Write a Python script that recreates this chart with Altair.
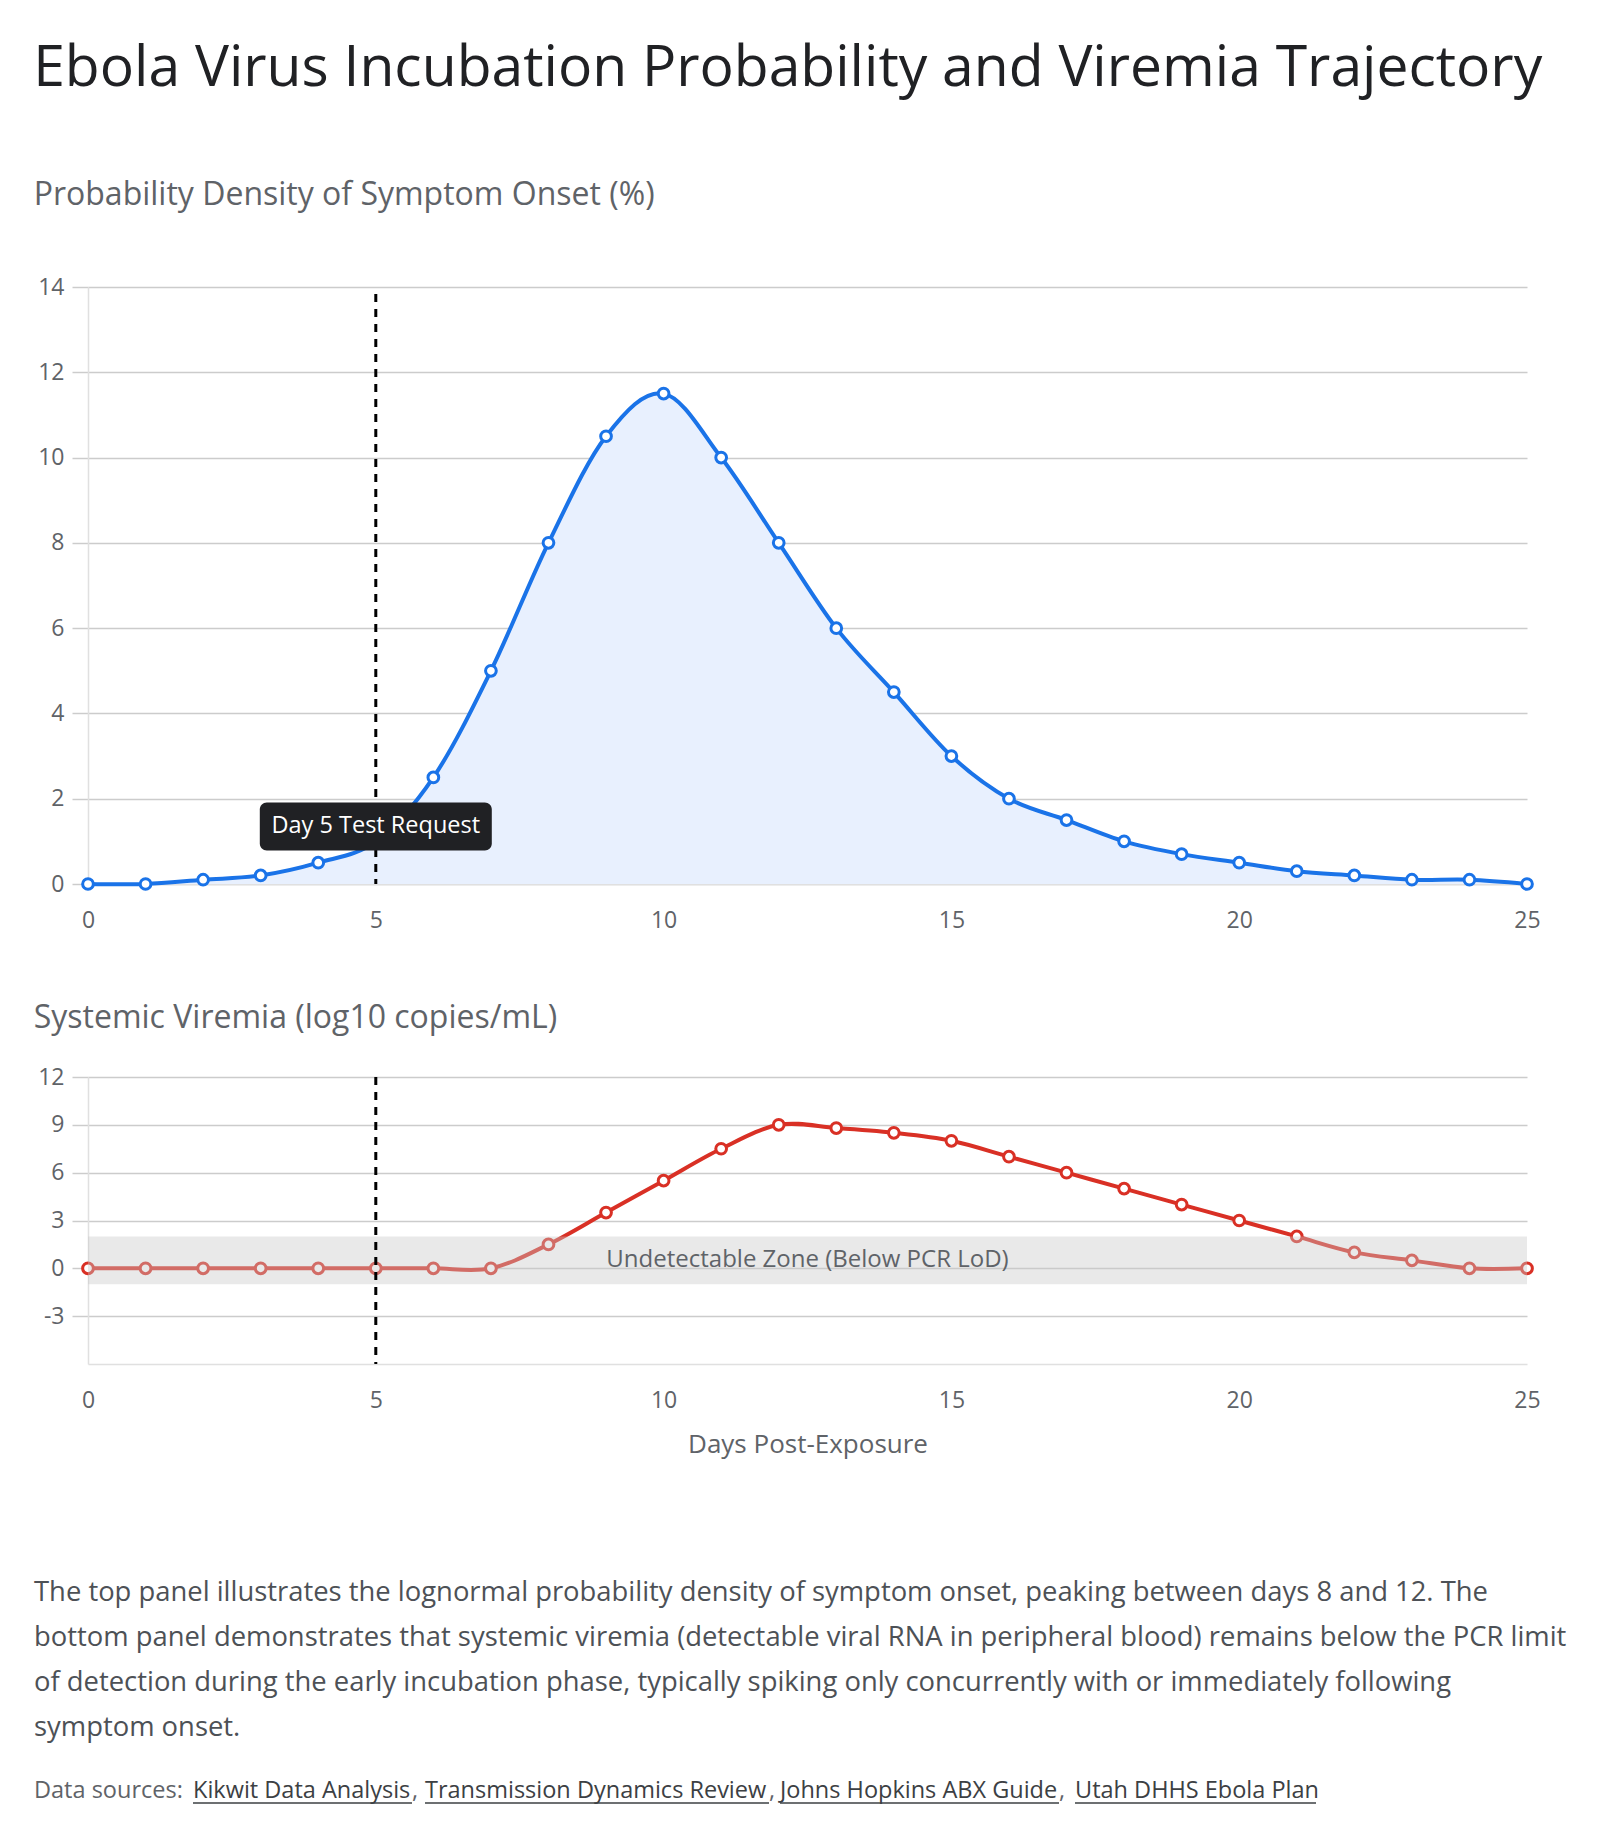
import altair as alt
import pandas as pd

# ---- data -------------------------------------------------------------
days = list(range(26))
onset_pct = [0, 0, 0.1, 0.2, 0.5, 1.0, 2.5, 5, 8, 10.5, 11.5, 10, 8, 6, 4.5,
             3, 2, 1.5, 1.0, 0.7, 0.5, 0.3, 0.2, 0.1, 0.1, 0]
viremia_log10 = [0, 0, 0, 0, 0, 0, 0, 0, 1.5, 3.5, 5.5, 7.5, 9, 8.8, 8.5,
                 8, 7, 6, 5, 4, 3, 2, 1, 0.5, 0, 0]

day_ticks = [0, 5, 10, 15, 20, 25]
onset_ticks = [0, 2, 4, 6, 8, 10, 12, 14]
viremia_ticks = [-3, 0, 3, 6, 9, 12]

test_day = 5
test_label = "Day 5 Test Request"
test_label_y = 1.35
lod_low, lod_high = -1, 2
lod_label = "Undetectable Zone (Below PCR LoD)"

title = "Ebola Virus Incubation Probability and Viremia Trajectory"
top_title = "Probability Density of Symptom Onset (%)"
bottom_title = "Systemic Viremia (log10 copies/mL)"
x_title = "Days Post-Exposure"
notes = [
    "The top panel illustrates the lognormal probability density of symptom onset, peaking between days 8 and 12. The",
    "bottom panel demonstrates that systemic viremia (detectable viral RNA in peripheral blood) remains below the PCR limit",
    "of detection during the early incubation phase, typically spiking only concurrently with or immediately following",
    "symptom onset.",
]
sources_prefix = "Data sources:"
sources = ["Kikwit Data Analysis", "Transmission Dynamics Review",
           "Johns Hopkins ABX Guide", "Utah DHHS Ebola Plan"]

# ---- style -------------------------------------------------------------
FONT = "Open Sans"
BLUE = "#1a73e8"
BLUE_FILL = "#e8f0fe"
RED = "#d93025"
GRID = "#cccccc"
BORDER = "#e0e0e0"
MUTED = "#5f6368"
TEXT = "#3c4043"
PLOT_W = 1439
PLOT_LEFT = 87          # page x of the plot origin, used to place the footer text
PAGE_LEFT = 33

top_df = pd.DataFrame({"day": days, "pct": onset_pct})
bot_df = pd.DataFrame({"day": days, "vir": viremia_log10})
marker_df = pd.DataFrame({"day": [test_day]})

LABEL_EXPR = "datum.value + ''"


def x_enc(show_title):
    return alt.X(
        "day:Q",
        scale=alt.Scale(domain=[0, 25], nice=False, zero=False),
        axis=alt.Axis(values=day_ticks, grid=False, ticks=False, tickSize=0,
                      labelPadding=25, labelFlush=False, labelExpr=LABEL_EXPR,
                      domainColor=BORDER, domainWidth=1.5,
                      title=x_title if show_title else None,
                      titleFontSize=26, titleFont=FONT, titleColor=MUTED,
                      titleFontWeight="normal", titlePadding=19),
    )


def y_axis(values):
    return alt.Axis(values=values, grid=True, gridColor=GRID, gridWidth=1.5,
                    tickSize=16, tickColor=GRID, tickWidth=1.5, labelPadding=8,
                    labelExpr=LABEL_EXPR,
                    domainColor=BORDER, domainWidth=1.5, title=None)


def sub_title(text, offset):
    return alt.TitleParams(text, anchor="start", fontSize=32, font=FONT,
                           color=MUTED, fontWeight="normal", offset=offset, dx=-4)


def dots(base, colour):
    return base.mark_point(filled=True, fill="white", stroke=colour,
                           strokeWidth=3, size=115, opacity=1)


# ---- top panel: incubation density ---------------------------------------
top_base = alt.Chart(top_df).encode(
    x=x_enc(False),
    y=alt.Y("pct:Q", scale=alt.Scale(domain=[0, 14], nice=False),
            axis=y_axis(onset_ticks)),
)
top_area = top_base.mark_area(interpolate="cardinal", color=BLUE_FILL)
top_line = top_base.mark_line(interpolate="cardinal", color=BLUE, strokeWidth=4)
top_rule = alt.Chart(marker_df).mark_rule(
    color="black", strokeWidth=3, strokeDash=[8, 7], strokeDashOffset=8
).encode(x="day:Q", y=alt.datum(14), y2=alt.datum(0))
tag_box = alt.Chart(marker_df).mark_rect(
    color="#202124", cornerRadius=7,
    xOffset=-116, x2Offset=116, yOffset=-24, y2Offset=24,
).encode(x="day:Q", x2="day:Q", y=alt.datum(test_label_y), y2=alt.datum(test_label_y))
tag_text = alt.Chart(marker_df).mark_text(
    color="white", font=FONT, fontSize=23.5, baseline="middle", align="center"
).encode(x="day:Q", y=alt.datum(test_label_y), text=alt.value(test_label))

top = alt.layer(top_area, top_line, top_rule, dots(top_base, BLUE), tag_box, tag_text).properties(
    width=PLOT_W, height=597, title=sub_title(top_title, 64)
)

# ---- bottom panel: viremia ---------------------------------------------
bot_base = alt.Chart(bot_df).encode(
    x=x_enc(True),
    y=alt.Y("vir:Q", scale=alt.Scale(domain=[-6, 12], nice=False),
            axis=y_axis(viremia_ticks)),
)
bot_line = bot_base.mark_line(interpolate="cardinal", color=RED, strokeWidth=4)
# translucent band laid over the trace marks the PCR limit of detection
lod_band = alt.Chart(pd.DataFrame({"lo": [lod_low], "hi": [lod_high]})).mark_rect(
    color="#c8c8c8", opacity=0.4
).encode(x=alt.datum(0), x2=alt.datum(25), y="lo:Q", y2="hi:Q")
lod_text = alt.Chart(pd.DataFrame({"mid": [(lod_low + lod_high) / 2]})).mark_text(
    color=MUTED, font=FONT, fontSize=24, baseline="middle", align="center"
).encode(x=alt.datum(12.5), y="mid:Q", text=alt.value(lod_label))
bot_rule = alt.Chart(marker_df).mark_rule(
    color="black", strokeWidth=3, strokeDash=[8, 7]
).encode(x="day:Q", y=alt.datum(12), y2=alt.datum(-6))

bottom = alt.layer(bot_line, dots(bot_base, RED), lod_band, lod_text, bot_rule).properties(
    width=PLOT_W, height=287, title=sub_title(bottom_title, 31)
)

# ---- notes and sources ----------------------------------------------------
NOTE_TOP = 52
SRC_TOP = NOTE_TOP + 200
note_text = alt.Chart(pd.DataFrame({"k": [0]})).mark_text(
    align="left", baseline="top", font=FONT, fontSize=27.4, color="#4d5156",
    lineHeight=45,
).encode(x=alt.value(PAGE_LEFT - PLOT_LEFT), y=alt.value(NOTE_TOP), text=alt.value(notes))

src_starts = [192, 424, 779, 1074]
src_ends = [411, 768, 1058, 1315]
src_df = pd.DataFrame({
    "name": sources,
    "x0": [s - PLOT_LEFT for s in src_starts],
    "x1": [e - PLOT_LEFT for e in src_ends],
})
src_prefix = alt.Chart(pd.DataFrame({"k": [0]})).mark_text(
    align="left", baseline="top", font=FONT, fontSize=23.5, color=MUTED
).encode(x=alt.value(PAGE_LEFT - PLOT_LEFT), y=alt.value(SRC_TOP), text=alt.value(sources_prefix))
src_links = alt.Chart(src_df).mark_text(
    align="left", baseline="top", font=FONT, fontSize=23.5, color=TEXT
).encode(x=alt.X("x0:Q", scale=None), y=alt.value(SRC_TOP), text="name:N")
src_commas = alt.Chart(src_df.iloc[:-1]).mark_text(
    align="left", baseline="top", font=FONT, fontSize=23.5, color=MUTED
).encode(x=alt.X("x1:Q", scale=None), y=alt.value(SRC_TOP), text=alt.value(","))
src_lines = alt.Chart(src_df).mark_rule(color=TEXT, strokeWidth=1.5).encode(
    x=alt.X("x0:Q", scale=None), x2="x1:Q", y=alt.value(SRC_TOP + 24)
)

notes_chart = alt.layer(note_text, src_prefix, src_links, src_commas, src_lines).properties(
    width=PLOT_W, height=290
)

chart = alt.vconcat(top, bottom, notes_chart, spacing=68).properties(
    title=alt.TitleParams(title, anchor="start", fontSize=57, font=FONT,
                          color="#202124", fontWeight="normal", offset=81),
    padding={"left": PAGE_LEFT, "top": 39, "right": 20, "bottom": 10},
).configure_view(stroke="transparent").configure_axis(
    labelFont=FONT, labelFontSize=23, labelColor=MUTED
)

chart.save("out.html", embed_options={"renderer": "svg", "actions": False})
